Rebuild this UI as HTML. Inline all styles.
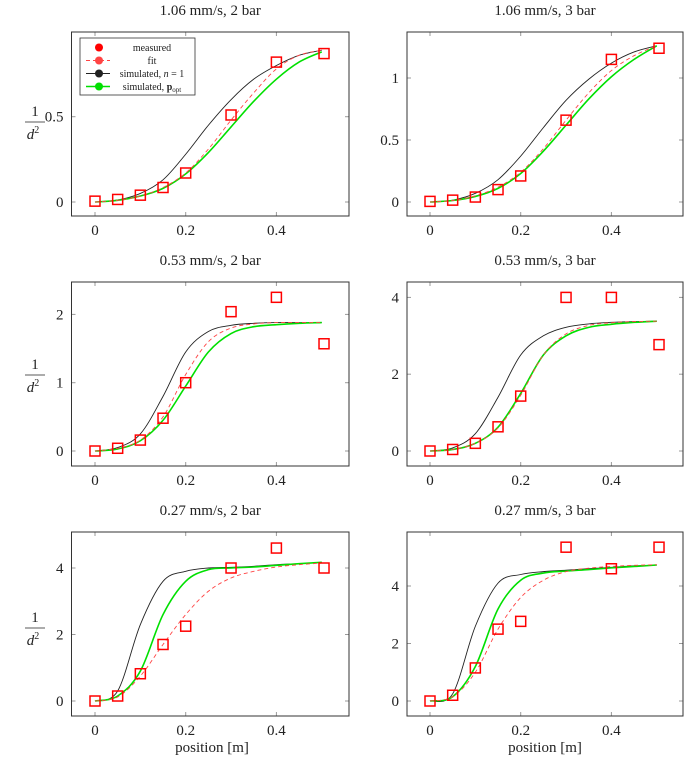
<!DOCTYPE html>
<html><head><meta charset="utf-8"><style>
body{margin:0;background:#fff}
svg text{font-family:"Liberation Serif",serif;fill:#222}
</style></head><body>
<svg id="c" width="685" height="761" xmlns="http://www.w3.org/2000/svg"></svg>
<script>
const xs=[0,0.05,0.1,0.15,0.2,0.25,0.3,0.35,0.4,0.45,0.5];
const mx=[0,0.05,0.1,0.15,0.2,0.3,0.4,0.505];
const titles=["1.06 mm/s, 2 bar","1.06 mm/s, 3 bar","0.53 mm/s, 2 bar","0.53 mm/s, 3 bar","0.27 mm/s, 2 bar","0.27 mm/s, 3 bar"];
const measured=[[0.005,0.015,0.04,0.085,0.17,0.51,0.82,0.87],[0.005,0.015,0.04,0.1,0.21,0.66,1.15,1.24],[0,0.04,0.16,0.48,1.0,2.04,2.25,1.57],[0,0.04,0.2,0.63,1.43,4.0,4.0,2.77],[0,0.15,0.82,1.7,2.25,4.0,4.6,4.0],[0,0.2,1.15,2.5,2.77,5.35,4.6,5.35]];
const black=[[0,0.012,0.05,0.13,0.28,0.45,0.6,0.72,0.8,0.86,0.89],[0,0.015,0.07,0.18,0.37,0.6,0.82,0.99,1.12,1.21,1.26],[0,0.05,0.25,0.8,1.45,1.75,1.84,1.87,1.88,1.88,1.88],[0,0.08,0.45,1.4,2.5,3.0,3.22,3.31,3.35,3.37,3.38],[0,0.3,2.3,3.6,3.9,4.0,4.02,4.05,4.1,4.13,4.17],[0,0.25,2.6,4.1,4.4,4.5,4.55,4.6,4.65,4.7,4.73]];
const fit=[[0,0.01,0.035,0.085,0.17,0.31,0.48,0.64,0.78,0.86,0.89],[0,0.012,0.05,0.12,0.24,0.43,0.66,0.88,1.06,1.18,1.26],[0,0.04,0.16,0.5,1.12,1.6,1.8,1.86,1.88,1.88,1.88],[0,0.04,0.2,0.6,1.45,2.5,3.05,3.27,3.34,3.37,3.38],[0,0.12,0.75,1.7,2.6,3.3,3.7,3.9,4.03,4.1,4.15],[0,0.15,1.0,2.5,3.6,4.2,4.5,4.62,4.68,4.72,4.74]];
const green=[[0,0.01,0.035,0.08,0.165,0.29,0.44,0.59,0.72,0.82,0.88],[0,0.012,0.045,0.11,0.23,0.41,0.62,0.83,1.01,1.15,1.26],[0,0.03,0.15,0.45,0.95,1.45,1.72,1.82,1.85,1.87,1.88],[0,0.04,0.2,0.62,1.5,2.5,3.0,3.22,3.3,3.35,3.38],[0,0.15,0.9,2.6,3.6,3.95,4.0,4.03,4.08,4.13,4.17],[0,0.15,1.2,3.2,4.2,4.45,4.52,4.57,4.63,4.68,4.73]];
const yticks=[[0,0.5],[0,0.5,1],[0,1,2],[0,2,4],[0,2,4],[0,2,4]];
const ytickLabels=[["0","0.5"],["0","0.5","1"],["0","1","2"],["0","2","4"],["0","2","4"],["0","2","4"]];
const xticks=[0,0.2,0.4];
const xtickLabels=["0","0.2","0.4"];

const NS="http://www.w3.org/2000/svg";
const svg=document.getElementById('c');
function el(t,a,p){const e=document.createElementNS(NS,t);for(const k in a)e.setAttribute(k,a[k]);(p||svg).appendChild(e);return e;}
const geo=[[71.5,349,95,32,216,202,170.6],[407,683,430,32,216,202,124],[71.5,349,95,282,466,451,68.3],[407,683,430,282,466,451,38.4],[71.5,349,95,532,716,701,33.25],[407,683,430,532,716,701,28.75]];
const XS=453.5;
function path(xv,yv,sx,sy){const p=xv.map((x,i)=>[sx(x),sy(yv[i])]);let d=`M${p[0][0]},${p[0][1]}`;for(let i=0;i<p.length-1;i++){const a=p[Math.max(0,i-1)],b=p[i],c=p[i+1],e=p[Math.min(p.length-1,i+2)];d+=` C${b[0]+(c[0]-a[0])/6},${b[1]+(c[1]-a[1])/6} ${c[0]-(e[0]-b[0])/6},${c[1]-(e[1]-b[1])/6} ${c[0]},${c[1]}`;}return d;}
geo.forEach((g,k)=>{
  const [L,R,x0,T,B,y0,ys]=g;
  const sx=x=>x0+x*XS, sy=y=>y0-y*ys;
  const G=el('g',{});
  
  
  const t=el('text',{x:(L+R)/2,y:T-17,'text-anchor':'middle','font-size':15},G);t.textContent=titles[k];
  
  xticks.forEach((v,i)=>{const x=sx(v);
    el('line',{x1:x,x2:x,y1:B,y2:B-4,stroke:'#999'},G);el('line',{x1:x,x2:x,y1:T,y2:T+4,stroke:'#999'},G);
    const tx=el('text',{x:x,y:B+19,'text-anchor':'middle','font-size':15},G);tx.textContent=xtickLabels[i];
    });
  yticks[k].forEach((v,i)=>{const y=sy(v);
    el('line',{x1:L,x2:L+4,y1:y,y2:y,stroke:'#999'},G);el('line',{x1:R,x2:R-4,y1:y,y2:y,stroke:'#999'},G);
    const ty=el('text',{x:L-8,y:y+5,'text-anchor':'end','font-size':15},G);ty.textContent=ytickLabels[k][i];
    });
  const bl=el('path',{d:path(xs,black[k],sx,sy),fill:'none',stroke:'#222','stroke-width':0.9},G);
  
  const gr=el('path',{d:path(xs,green[k],sx,sy),fill:'none',stroke:'#00e000','stroke-width':1.6},G);
  
  const ft=el('path',{d:path(xs,fit[k],sx,sy),fill:'none',stroke:'#f44','stroke-width':0.9,'stroke-dasharray':'4,3'},G);
  
  measured[k].forEach((v,i)=>{const m=el('rect',{x:sx(mx[i])-5,y:sy(v)-5,width:10,height:10,fill:'none',stroke:'#f00','stroke-width':1.5},G);
    });
  const bx=el('rect',{x:L,y:T,width:R-L,height:B-T,fill:'none',stroke:'#333','stroke-width':1},G);
  
});
// y-axis labels 1/d^2 (upright fraction)
[122,375,628].forEach(y=>{
  const g=el('g',{});
  const a=el('text',{x:35,y:y-6,'text-anchor':'middle','font-size':15},g);a.textContent='1';
  el('line',{x1:25,x2:45,y1:y,y2:y,stroke:'#222','stroke-width':0.8},g);
  const b=el('text',{x:33,y:y+17,'text-anchor':'middle','font-size':15,'font-style':'italic'},g);b.innerHTML='d<tspan font-size="10" dy="-6" font-style="normal">2</tspan>';
});
[[212,'x-axis-title-left'],[545,'x-axis-title-right']].forEach(([x,n])=>{const t=el('text',{x:x,y:752,'text-anchor':'middle','font-size':15});t.textContent='position [m]';});
// legend
const lg=el('g',{});
el('rect',{x:80,y:38,width:115,height:57,fill:'#fff',stroke:'#333','stroke-width':0.8},lg);
const items=[['measured',null,'#f00'],['fit','4,3','#f44'],['simulated, ','','#222'],['simulated, ','','#00e000']];
items.forEach((it,i)=>{const y=47.5+i*13;
  if(it[1]!==null)el('line',{x1:86,x2:110,y1:y,y2:y,stroke:it[2],'stroke-width':i==3?1.6:0.9,'stroke-dasharray':it[1]||'none'},lg);
  el('circle',{cx:99,cy:y,r:4,fill:it[2]},lg);
  const t=el('text',{x:152,y:y+3.5,'text-anchor':'middle','font-size':10},lg);
  
  if(i==2)t.innerHTML='simulated, <tspan font-style="italic">n</tspan> = 1';
  else if(i==3)t.innerHTML='simulated, <tspan font-weight="bold">p</tspan><tspan font-size="7" dy="2">opt</tspan>';
  else t.textContent=it[0];
});
</script>
</body></html>
